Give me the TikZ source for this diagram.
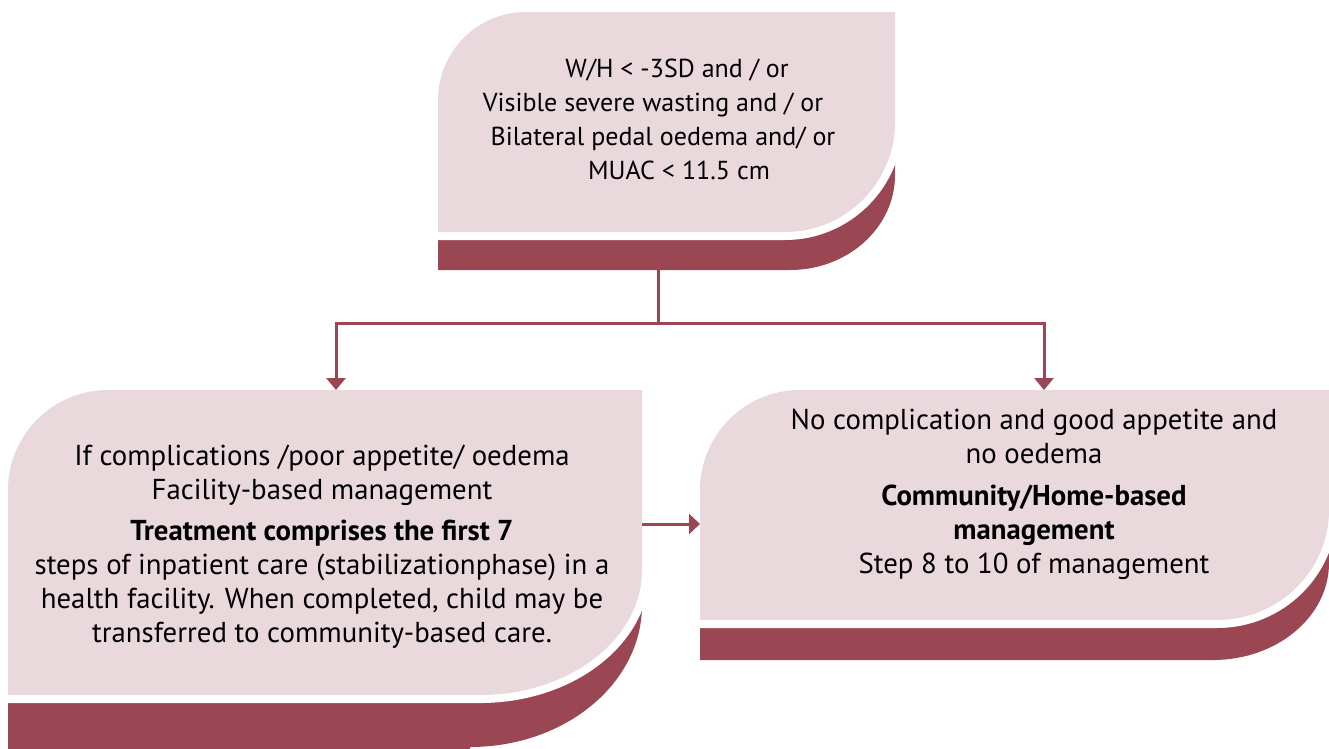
\documentclass[tikz,border=0pt]{standalone}
\usepackage{fontspec}
\setmainfont{PT Sans}
\usetikzlibrary{arrows.meta}
\definecolor{boxpink}{HTML}{E9D9DD}
\definecolor{boxdark}{HTML}{9A4753}
\tikzset{
  shadowfill/.style={fill=boxdark},
  pinkfill/.style={fill=boxpink, preaction={draw=white, line width=16pt}},
  area/.style={inner sep=0pt, outer sep=0pt, minimum width=#1},
  txt/.style={align=center, inner sep=0pt, font=\fontsize{28.8}{34}\selectfont},
  toptxt/.style={txt, font=\fontsize{26}{34}\selectfont},
  link/.style={draw=boxdark, line width=3pt},
  arrowlink/.style={link, -{Triangle[width=19pt,length=12pt]}},
}
\begin{document}
\begin{tikzpicture}[x=1pt,y=-1pt]
\useasboundingbox (0,0) rectangle (1329,748);
\clip (0,0) rectangle (1329,748);

% ---- top box ----
\fill[shadowfill] (438,150) -- (895,150) -- (895,175)
  .. controls (895,227.4) and (848,270) .. (790,270) -- (438,270) -- cycle;
\path[pinkfill] (438,232) -- (438,100)
  .. controls (438,51.4) and (477.4,12) .. (526,12) -- (895,12) -- (895,122)
  .. controls (895,182.7) and (845.7,232) .. (785,232) -- cycle;

% ---- left box ----
\fill[shadowfill] (8,560) -- (642,560) -- (642,605)
  .. controls (642,683.4) and (565,747) .. (470,747) -- (470,760) -- (8,760) -- cycle;
\path[pinkfill] (8,697) -- (8,490)
  .. controls (8,434.8) and (52.8,390) .. (108,390) -- (642,390) -- (642,570)
  .. controls (642,639) and (569.4,695) .. (480,695) -- (8,695) -- cycle;

% ---- right box ----
\fill[shadowfill] (700,520) -- (1329,520) -- (1329,563)
  .. controls (1329,616.5) and (1277,660) .. (1213,660) -- (700,660) -- cycle;
\path[pinkfill] (700,620) -- (700,490)
  .. controls (700,434.8) and (744.8,390) .. (800,390) -- (1329,390) -- (1329,510)
  .. controls (1329,570.7) and (1278.8,620) .. (1217,620) -- cycle;

% ---- box areas (named) ----
\node[area=457pt, minimum height=258pt] (top) at (666.5,141) {};
\node[area=634pt, minimum height=358pt] (left) at (325,569) {};
\node[area=629pt, minimum height=270pt] (right) at (1014.5,525) {};

% ---- texts ----
\node[toptxt] (toptext) at (663,119) {\hspace*{28pt}W/H < -3SD and / or\\
Visible severe wasting and / or\hspace*{20pt}\mbox{}\\
Bilateral pedal oedema and/ or\\
\hspace*{32pt}MUAC < 11.5 cm};

\node[txt] (lefttext) at (322,547) {If complications /poor appetite/ oedema\\
Facility-based management\\[7pt]
\textbf{Treatment comprises the first 7}\\
steps of inpatient care (stabilizationphase) in a\\
health facility. When completed, child may be\\
transferred to community-based care.};

\node[txt] (righttext) at (1034,494) {No complication and good appetite and\\
no oedema\\[8pt]
\textbf{Community/Home-based}\\
\textbf{management}\\
Step 8 to 10 of management};

% ---- connectors ----
\coordinate (split) at (658,323);
\coordinate (lbr) at (336,323);
\coordinate (rbr) at (1044,323);
\coordinate (hy) at (0,524);
\draw[link] (top.south -| split) -- (split);
\draw[link, line cap=rect] (lbr) -- (rbr);
\draw[arrowlink] (lbr) -- (lbr |- left.north);
\draw[arrowlink] (rbr) -- (rbr |- right.north);
\draw[link, -{Triangle[width=20pt,length=11pt]}] (left.east |- hy) -- (right.west |- hy);
\end{tikzpicture}
\end{document}
